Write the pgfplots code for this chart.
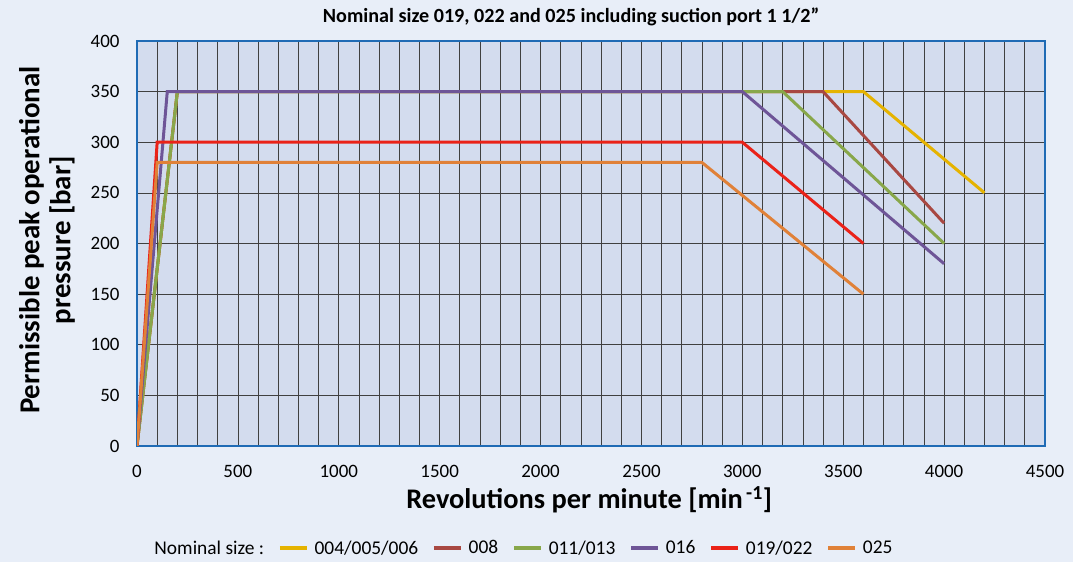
\documentclass[border=0pt]{standalone}
\usepackage{pgfplots}
\pgfplotsset{compat=1.18}
\usepackage{fontspec}
\setmainfont{Carlito}
\definecolor{outerbg}{HTML}{E8EEF8}
\definecolor{plotbg}{HTML}{D3DCEE}
\definecolor{frame}{HTML}{1F6BB5}
\definecolor{cyel}{HTML}{E5B300}
\definecolor{cbro}{HTML}{A84842}
\definecolor{cgre}{HTML}{88A74A}
\definecolor{cpur}{HTML}{6E5597}
\definecolor{cred}{HTML}{EA2218}
\definecolor{cora}{HTML}{E08138}
\begin{document}
\begin{tikzpicture}
\fill[outerbg] (0,0) rectangle (1073bp,562bp);
\begin{axis}[
  at={(137bp,116bp)}, anchor=south west,
  scale only axis, width=908bp, height=405bp,
  xmin=0, xmax=4500, ymin=0, ymax=400,
  xtick={0,500,...,4500}, ytick={0,50,...,400},
  minor x tick num=4,
  xmajorgrids, xminorgrids, ymajorgrids,
  grid style={draw=black!75, line width=0.7bp},
  minor grid style={draw=black!75, line width=0.7bp},
  major tick length=0pt, minor tick length=0pt,
  axis line style={draw=frame, line width=2bp},
  axis background/.style={fill=plotbg},
  /pgf/number format/assume math mode=true,
  /pgf/number format/1000 sep={},
  scaled ticks=false,
  xticklabel style={font=\fontsize{19}{21}\selectfont, yshift=-16bp},
  yticklabel style={font=\fontsize{19}{21}\selectfont, xshift=-14bp},
  xlabel={\textbf{Revolutions per minute [min\textsuperscript{\,-1}]}},
  xlabel style={font=\fontsize{28.5}{31}\selectfont, at={(axis description cs:0.498,-0.133)}, anchor=center},
  ylabel={\textbf{Permissible peak operational}\\\textbf{pressure [bar]}},
  ylabel style={font=\fontsize{29}{31}\selectfont, align=center, at={(axis description cs:-0.0991,0.508)}, anchor=center},
  title={\textbf{Nominal size 019, 022 and 025 including suction port 1 1/2"}},
  title style={font=\fontsize{20.2}{22}\selectfont, at={(axis description cs:0.478,1.044)}, anchor=center},
  legend style={at={(0.424,-0.252)}, anchor=center, draw=none, fill=none,
    font=\fontsize{19.5}{22}\selectfont, column sep=3bp,
    /tikz/every even column/.append style={column sep=11bp},
    nodes={inner sep=3bp}},
  legend columns=-1,
  legend image code/.code={\draw[#1, line width=3.5bp] (0bp,0bp) -- (27bp,0bp);},
  every axis plot/.append style={line width=3bp, line join=miter},
]
\addlegendimage{empty legend}
\addlegendentry{Nominal size :\hspace{-10bp}}
\addplot[cyel] coordinates {(0,0) (200,350) (3600,350) (4200,250)};
\addlegendentry{004/005/006}
\addplot[cbro] coordinates {(0,0) (200,350) (3400,350) (4000,220)};
\addlegendentry{008}
\addplot[cgre] coordinates {(0,0) (200,350) (3200,350) (4000,200)};
\addlegendentry{011/013}
\addplot[cpur] coordinates {(0,0) (150,350) (3000,350) (4000,180)};
\addlegendentry{016}
\addplot[cred] coordinates {(0,0) (100,300) (3000,300) (3600,200)};
\addlegendentry{019/022}
\addplot[cora] coordinates {(0,0) (100,280) (2800,280) (3600,150)};
\addlegendentry{025}
\end{axis}
\end{tikzpicture}
\end{document}
